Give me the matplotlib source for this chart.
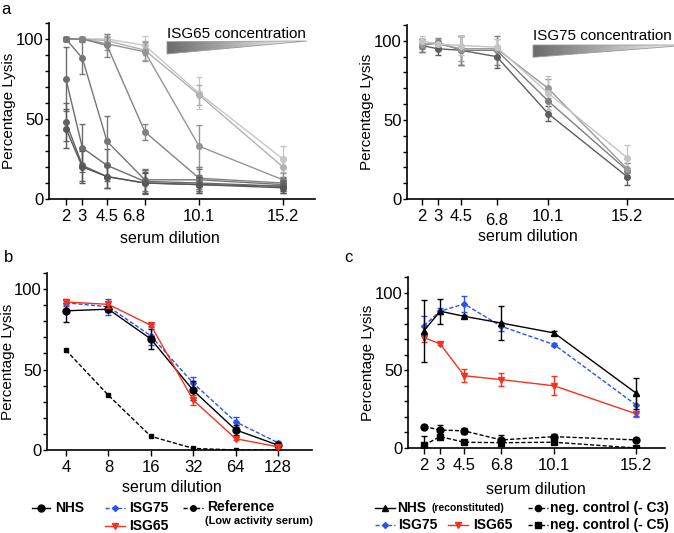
import numpy as np
import matplotlib.pyplot as plt
from matplotlib.patches import Polygon
from matplotlib.ticker import MultipleLocator
from matplotlib.transforms import ScaledTranslation

plt.rcParams['font.family'] = ['Liberation Sans', 'DejaVu Sans']
plt.rcParams['font.size'] = 11

W, H = 674, 533

# ---- data -------------------------------------------------------------
dilution = [2, 3, 4.5, 6.8, 10.1, 15.2]
dilution_labels = ['2', '3', '4.5', '6.8', '10.1', '15.2']

# panel a left: ISG65 titration, darkest (most ISG65) -> lightest
isg65_titr = [
  [44, 20, 14, 10, 9, 7],
  [48, 21, 14, 10, 9, 8],
  [75, 32, 21, 11, 10, 8],
  [100, 88, 36, 12, 12, 9],
  [100, 100, 96, 42, 13, 10],
  [100, 100, 97, 92, 33, 12],
  [100, 100, 99, 93, 65, 20],
  [100, 100, 100, 96, 66, 25],
]
isg65_titr_err = [
  [12, 10, 7, 6, 5, 3],
  [12, 10, 7, 7, 5, 3],
  [20, 15, 10, 7, 5, 4],
  [1, 10, 16, 7, 7, 4],
  [1, 1, 7, 5, 7, 4],
  [1, 1, 4, 6, 13, 4],
  [1, 1, 3, 6, 6, 6],
  [1, 1, 3, 6, 10, 8],
]
greys_a = ['#585858', '#626262', '#6c6c6c', '#767676', '#838383', '#959595', '#b2b2b2', '#c6c6c6']

# panel a right: ISG75 titration
isg75_titr = [
  [97, 95, 94, 90, 54, 14],
  [97, 99, 94, 94, 62, 18],
  [98, 98, 95, 95, 70, 19],
  [100, 98, 97, 96, 67, 26],
]
isg75_titr_err = [
  [4, 4, 9, 7, 5, 5],
  [4, 3, 9, 9, 6, 5],
  [3, 3, 8, 6, 6, 6],
  [3, 3, 6, 5, 11, 8],
]
greys_b = ['#5e5e5e', '#7e7e7e', '#9a9a9a', '#c4c4c4']

# panel b
dilution_b = [4, 8, 16, 32, 64, 128]
nhs_b = [86.5, 87.5, 69, 37, 12.5, 3]
nhs_b_err = [7, 2, 6, 6, 3, 1]
isg75_b = [91.5, 89, 71, 41.5, 17.5, 4.5]
isg75_b_err = [2, 5, 6, 4, 3, 1]
isg65_b = [92, 90.5, 77.5, 31, 7, 2]
isg65_b_err = [2, 2, 1, 3, 1, 1]
ref_b = [62, 34, 8.5, 1, 0, 0]

# panel c
nhs_c = [75.5, 88, 84.7, 80.4, 74, 35.3]
nhs_c_err = [20, 8, 1, 11, 1, 10]
isg75_c = [78.7, 88, 92.7, 78.3, 66.5, 27.7]
isg75_c_err = [6, 2, 5, 3, 1, 7]
isg65_c = [71, 67, 46.5, 44, 40, 22]
isg65_c_err = [3, 1, 4, 4, 6, 2]
negc3_c = [13.8, 11.6, 11, 5.2, 7.3, 5.2]
negc3_c_err = [1, 3, 2, 3, 2, 1]
negc5_c = [1.9, 7.3, 3.7, 3.4, 3.7, 0]
negc5_c_err = [6, 1, 1, 1, 1, 1]

BLUE = '#2a52f0'
RED = '#f5321e'

fig = plt.figure(figsize=(W / 100, H / 100), dpi=100)


def px_axes(l, t, r, b):
  return fig.add_axes([l / W, 1 - b / H, (r - l) / W, (b - t) / H])


def style(ax, xlab_x, xlab_y, ylab_x):
  for s in ['top', 'right']:
    ax.spines[s].set_visible(False)
  for s in ['left', 'bottom']:
    ax.spines[s].set_linewidth(1.2)
  ax.set_ylim(0, 110)
  ax.set_yticks([0, 50, 100])
  ax.yaxis.set_minor_locator(MultipleLocator(10))
  ax.tick_params(axis='y', which='both', length=3, width=1, pad=1, labelsize=12)
  ax.tick_params(axis='x', length=4, width=1, pad=3, labelsize=12)
  ax.set_xlabel('serum dilution', fontsize=11.5)
  ax.set_ylabel('Percentage Lysis', fontsize=11)
  ax.xaxis.set_label_coords(xlab_x, xlab_y)
  ax.yaxis.set_label_coords(ylab_x, 0.5)


def eb(ax, x, y, e, color, marker, ms, ls='-', dashes=None, z=3):
  kw = dict(color=color, marker=marker, ms=ms, lw=1, elinewidth=1,
            capsize=2.3, capthick=1, ls=ls, zorder=z)
  res = ax.errorbar(x, y, yerr=e, **kw)
  if dashes is not None:
    res[0].set_dashes(dashes)
  return res


# ---- panel a left ----
ax1 = px_axes(49, 23, 315, 199)
for i in range(len(isg65_titr)):
  eb(ax1, dilution, isg65_titr[i], isg65_titr_err[i], greys_a[i], 'o', 4, z=3 + (8 - i) * 0.1)
ax1.set_xlim(0.97, 17.15)
ax1.set_xticks(dilution)
ax1.set_xticklabels(dilution_labels)
style(ax1, 0.455, -0.18, -0.124)
lab = ax1.get_xticklabels()[3]
lab.set_transform(lab.get_transform() + ScaledTranslation(-0.11, 0, fig.dpi_scale_trans))

# ---- panel a right ----
ax2 = px_axes(407, 25, 674, 199)
for i in range(len(isg75_titr)):
  eb(ax2, dilution, isg75_titr[i], isg75_titr_err[i], greys_b[i], 'o', 4)
ax2.set_xlim(1.03, 18.2)
ax2.set_xticks(dilution)
ax2.set_xticklabels(dilution_labels)
style(ax2, 0.453, -0.175, -0.125)
lab = ax2.get_xticklabels()[3]
lab.set_transform(lab.get_transform() + ScaledTranslation(0, -0.04, fig.dpi_scale_trans))

# ---- panel b ----
ax3 = px_axes(47, 273, 312, 450)
ax3.set_xscale('log', base=2)
eb(ax3, dilution_b, ref_b, None, 'black', 's', 3, ls='--', dashes=(3, 1.5))
eb(ax3, dilution_b, isg75_b, isg75_b_err, BLUE, 'D', 3, ls='--', dashes=(3, 1.5), z=4)
eb(ax3, dilution_b, nhs_b, nhs_b_err, 'black', 'o', 5, z=5)
eb(ax3, dilution_b, isg65_b, isg65_b_err, RED, 'v', 4.5, z=6)
ax3.set_xlim(2 ** 1.552, 2 ** 7.8)
ax3.set_xticks(dilution_b)
ax3.set_xticklabels([str(d) for d in dilution_b])
ax3.xaxis.set_minor_locator(plt.NullLocator())
style(ax3, 0.47, -0.17, -0.12)

# ---- panel c ----
ax4 = px_axes(408, 277, 665, 448)
eb(ax4, dilution, negc5_c, negc5_c_err, 'black', 's', 5, ls='--', dashes=(3, 1.5))
eb(ax4, dilution, negc3_c, negc3_c_err, 'black', 'o', 5, ls='--', dashes=(3, 1.5))
eb(ax4, dilution, isg65_c, isg65_c_err, RED, 'v', 4.5, z=4)
eb(ax4, dilution, isg75_c, isg75_c_err, BLUE, 'D', 3, ls='--', dashes=(3, 1.5), z=5)
eb(ax4, dilution, nhs_c, nhs_c_err, 'black', '^', 4.5, z=6)
ax4.set_xlim(1.0, 17.0)
ax4.set_xticks(dilution)
ax4.set_xticklabels(dilution_labels)
style(ax4, 0.498, -0.2, -0.128)

# ---- overlay in pixel coordinates: letters, gradients, legends ----
ov = fig.add_axes([0, 0, 1, 1], zorder=10)
ov.axis('off')

grad = np.linspace(0.42, 1.0, 256).reshape(1, -1)
for tri, txt in [([(167, 41.7), (167, 54), (307, 41)], 'ISG65 concentration'),
                 ([(533, 45), (533, 57.3), (690, 45)], 'ISG75 concentration')]:
  x0 = tri[0][0]
  x1 = tri[2][0]
  im = ov.imshow(grad, cmap='gray', vmin=0, vmax=1, aspect='auto',
                 extent=(x0, x1, tri[1][1], tri[0][1] - 1))
  poly = Polygon(tri, closed=True, facecolor='none', edgecolor='#9a9a9a', lw=0.6)
  ov.add_patch(poly)
  im.set_clip_path(poly)
  ov.text(x0, 38.5 if x0 < 300 else 39.5, txt, ha='left', va='baseline', fontsize=11)

ov.set_xlim(0, W)
ov.set_ylim(H, 0)

ov.text(1, 10, 'a', fontsize=12, va='center')
ov.text(4, 258, 'b', fontsize=12, va='center')
ov.text(344, 258, 'c', fontsize=12, va='center')


def key(x0, x1, y, color, marker, ms, dashed=False):
  ln, = ov.plot([x0, x1], [y, y], color=color, lw=1)
  if dashed:
    ln.set_dashes((3, 1.5))
  ov.plot([(x0 + x1) / 2], [y], color=color, marker=marker, ms=ms)


bold = dict(fontsize=10, fontweight='bold', va='center', ha='left')
key(32, 50, 508, 'black', 'o', 5)
ov.text(55, 508, 'NHS', **bold)
key(105, 125, 508, BLUE, 'D', 3, dashed=True)
ov.text(129, 508, 'ISG75', **bold)
key(105, 125, 526, RED, 'v', 4.5)
ov.text(129, 526, 'ISG65', **bold)
key(183, 203, 508, 'black', 'o', 4, dashed=True)
ov.text(207, 507, 'Reference', **bold)
ov.text(205, 521, '(Low activity serum)', fontsize=8, fontweight='bold', va='center', ha='left')

key(375, 395, 508, 'black', '^', 4.5)
ov.text(397, 508, 'NHS', **bold)
ov.text(432, 508, '(reconstituted)', fontsize=7.5, fontweight='bold', va='center', ha='left')
key(528, 548, 508, 'black', 'o', 4.5, dashed=True)
ov.text(550, 508, 'neg. control (- C3)', **bold)
key(375, 395, 525, BLUE, 'D', 3, dashed=True)
ov.text(398, 525, 'ISG75', **bold)
key(448, 468, 525, RED, 'v', 4.5)
ov.text(473, 525, 'ISG65', **bold)
key(528, 548, 525, 'black', 's', 4.5, dashed=True)
ov.text(550, 525, 'neg. control (- C5)', **bold)

fig.savefig('out.png', dpi=100)
